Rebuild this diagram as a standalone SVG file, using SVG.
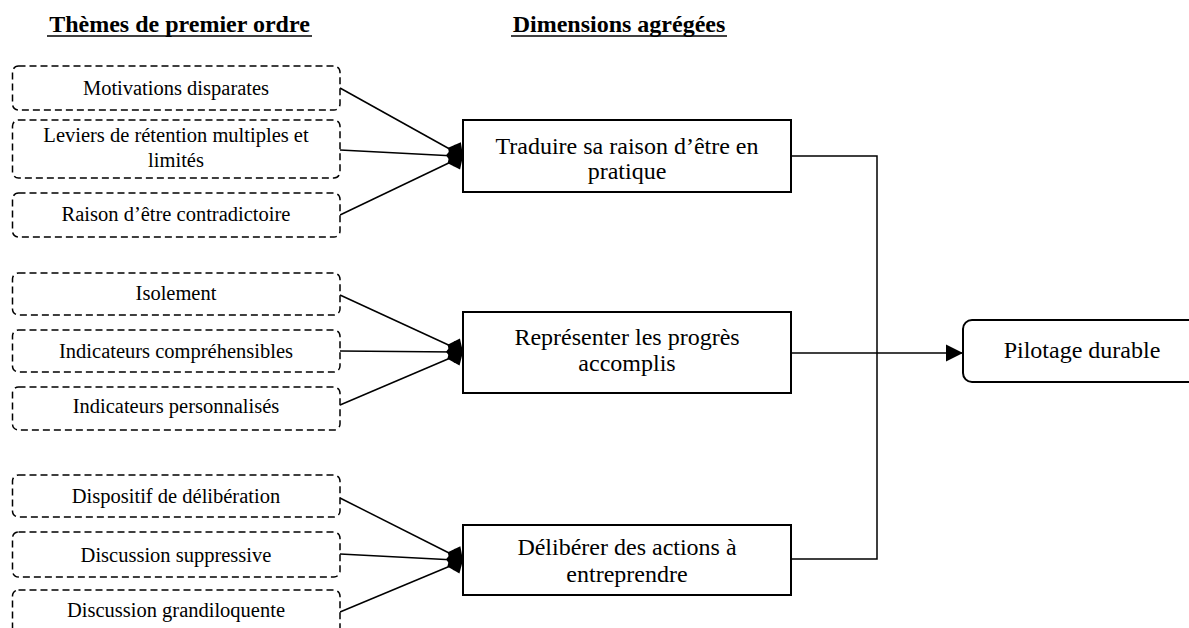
<svg xmlns="http://www.w3.org/2000/svg" xmlns:xlink="http://www.w3.org/1999/xlink" width="1189" height="628" viewBox="0 0 1189 628">
<style>
text{font-family:"Liberation Serif","Times New Roman",serif;fill:#000;text-anchor:middle}
.h{font-size:24px;font-weight:bold}
.s{font-size:20.5px}
.m{font-size:24px}
.d{fill:#fff;stroke:#000;stroke-width:1.5;stroke-dasharray:7 4}
.b{fill:#fff;stroke:#000;stroke-width:2}
.c{fill:none;stroke:#000;stroke-width:1.5}
</style>
<defs>
<path id="dia" d="M0 0 L-8.5 -11 L-17 0 L-8.5 11 Z" fill="#000"/>
<marker id="arr" markerUnits="userSpaceOnUse" markerWidth="18" markerHeight="18" refX="17" refY="9" orient="auto" overflow="visible">
<path d="M0 0.5 L17 9 L0 17.5 Z" fill="#000"/>
</marker>
</defs>
<g id="headers">
<text class="h" x="179.5" y="32">Thèmes de premier ordre</text>
<line x1="47" y1="36" x2="312" y2="36" stroke="#000" stroke-width="1.5"/>
<text class="h" x="619" y="32">Dimensions agrégées</text>
<line x1="511" y1="36" x2="727" y2="36" stroke="#000" stroke-width="1.5"/>
</g>
<g id="connectors">
<path class="c" d="M340 88 L455 152"/>
<path class="c" d="M340 150 L455 156"/>
<path class="c" d="M340 215 L455 160"/>
<use xlink:href="#dia" href="#dia" transform="translate(463 156) rotate(28.9)"/>
<use xlink:href="#dia" href="#dia" transform="translate(463 156) rotate(2.8)"/>
<use xlink:href="#dia" href="#dia" transform="translate(463 156) rotate(-25.6)"/>
<path class="c" d="M340 295 L455 348"/>
<path class="c" d="M340 351 L455 352"/>
<path class="c" d="M340 405 L455 356"/>
<use xlink:href="#dia" href="#dia" transform="translate(463 352) rotate(24.9)"/>
<use xlink:href="#dia" href="#dia" transform="translate(463 352) rotate(0.5)"/>
<use xlink:href="#dia" href="#dia" transform="translate(463 352) rotate(-23.3)"/>
<path class="c" d="M340 498 L455 556"/>
<path class="c" d="M340 554 L455 560"/>
<path class="c" d="M340 612 L455 564"/>
<use xlink:href="#dia" href="#dia" transform="translate(463 560) rotate(26.7)"/>
<use xlink:href="#dia" href="#dia" transform="translate(463 560) rotate(2.8)"/>
<use xlink:href="#dia" href="#dia" transform="translate(463 560) rotate(-22.9)"/>
<path class="c" d="M791 156 H877 V559 H791"/>
<path class="c" d="M791 353 H963" marker-end="url(#arr)"/>
</g>
<g id="n1"><rect class="d" x="12.5" y="66" width="327.5" height="44" rx="6"/><text class="s" x="176" y="95">Motivations disparates</text></g>
<g id="n2"><rect class="d" x="12.5" y="120" width="327.5" height="58" rx="6"/><text class="s" x="176" y="142">Leviers de rétention multiples et</text><text class="s" x="176" y="167">limités</text></g>
<g id="n3"><rect class="d" x="12.5" y="193" width="327.5" height="44" rx="6"/><text class="s" x="176" y="221">Raison d’être contradictoire</text></g>
<g id="n4"><rect class="d" x="12.5" y="273" width="327.5" height="42" rx="6"/><text class="s" x="176" y="300">Isolement</text></g>
<g id="n5"><rect class="d" x="12.5" y="330" width="327.5" height="42" rx="6"/><text class="s" x="176" y="358">Indicateurs compréhensibles</text></g>
<g id="n6"><rect class="d" x="12.5" y="387" width="327.5" height="43" rx="6"/><text class="s" x="176" y="413">Indicateurs personnalisés</text></g>
<g id="n7"><rect class="d" x="12.5" y="475" width="327.5" height="42" rx="6"/><text class="s" x="176" y="503">Dispositif de délibération</text></g>
<g id="n8"><rect class="d" x="12.5" y="532" width="327.5" height="45" rx="6"/><text class="s" x="176" y="562">Discussion suppressive</text></g>
<g id="n9"><rect class="d" x="12.5" y="590" width="327.5" height="46" rx="6"/><text class="s" x="176" y="617">Discussion grandiloquente</text></g>
<g id="m1"><rect class="b" x="463" y="120" width="328" height="72"/><text class="m" x="627" y="154">Traduire sa raison d’être en</text><text class="m" x="627" y="179">pratique</text></g>
<g id="m2"><rect class="b" x="463" y="312" width="328" height="81"/><text class="m" x="627" y="345">Représenter les progrès</text><text class="m" x="627" y="371">accomplis</text></g>
<g id="m3"><rect class="b" x="463" y="525" width="328" height="70"/><text class="m" x="627" y="555">Délibérer des actions à</text><text class="m" x="627" y="582">entreprendre</text></g>
<g id="p"><rect class="b" x="963" y="320" width="238" height="62" rx="9"/><text class="m" x="1082" y="358">Pilotage durable</text></g>
</svg>
